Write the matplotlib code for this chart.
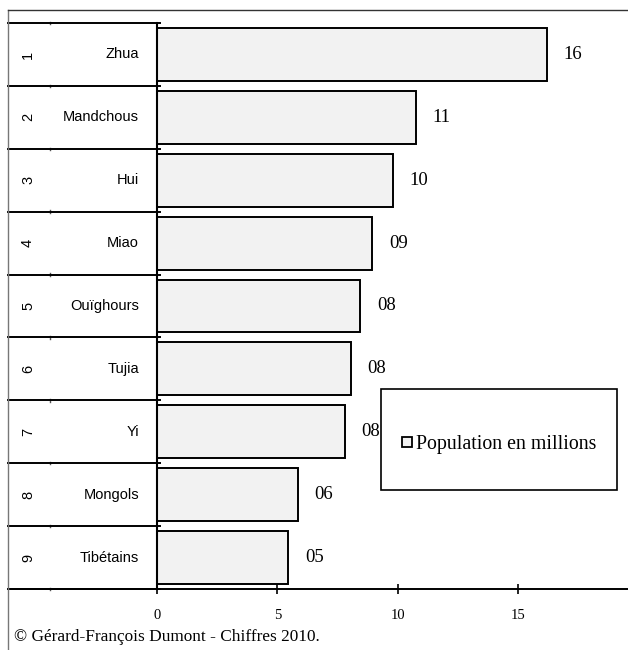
import matplotlib
matplotlib.use("Agg")
import matplotlib.pyplot as plt
from matplotlib.lines import Line2D

# Principales minorités ethniques de Chine (population en millions)
rangs = ["1", "2", "3", "4", "5", "6", "7", "8", "9"]
peuples = ["Zhua", "Mandchous", "Hui", "Miao", "Ouïghours", "Tujia", "Yi", "Mongols", "Tibétains"]
population = [16.2, 10.75, 9.8, 8.95, 8.45, 8.05, 7.8, 5.85, 5.45]
graduations = [0, 5, 10, 15]
legende = "Population en millions"
source = "© Gérard-François Dumont - Chiffres 2010."

W, H = 628, 650
fig = plt.figure(figsize=(W / 100, H / 100), dpi=100)

# zone des barres : x=0 à 157 px, pas de 24.07 px par unité
x0_px, y_haut, y_bas = 157, 23, 589
ech = 24.07
ax = fig.add_axes([x0_px / W, (H - y_bas) / H, (W - x0_px) / W, (y_bas - y_haut) / H])
xmax = (W - x0_px) / ech
ax.set_xlim(0, xmax)
ax.set_ylim(len(peuples), 0)

serif = "Liberation Serif"
sans = "Liberation Sans"

y = [i + 0.5 for i in range(len(peuples))]
ax.barh(y, population, height=0.84, color="#f2f2f2", edgecolor="black", linewidth=1.4, zorder=2)

for yi, v in zip(y, population):
    ax.annotate(f"{round(v):02d}", (v, yi), xytext=(12, 0), textcoords="offset points",
                ha="left", va="center", fontsize=13.5, family=serif)

# colonne des libellés à gauche
x_bord = (8 - x0_px) / ech
x_tick = 3 / ech
for i in range(len(peuples) + 1):
    ax.plot([x_bord, x_tick], [i, i], color="black", lw=1.4, clip_on=False, zorder=3)
    ax.plot([(50 - x0_px) / ech] * 2, [i - 0.02, i + 0.02], color="#555555", lw=1, clip_on=False)
ax.plot([x_bord, xmax], [len(peuples)] * 2, color="black", lw=1.4, clip_on=False, zorder=3)

for yi, r, p in zip(y, rangs, peuples):
    ax.text((28 - x0_px) / ech, yi, r, rotation=90, ha="center", va="center",
            fontsize=10.5, family=sans, clip_on=False)
    ax.text((139 - x0_px) / ech, yi, p, ha="right", va="center",
            fontsize=10.5, family=sans, clip_on=False)

for s in ["top", "right", "bottom"]:
    ax.spines[s].set_visible(False)
ax.spines["left"].set_linewidth(1.5)
ax.set_yticks([])
ax.set_xticks(graduations)
ax.set_xticklabels([str(g) for g in graduations], family=serif, fontsize=10.5)
ax.tick_params(axis="x", direction="inout", length=7, width=1.2, pad=11)

# cadre de la figure (gauche et haut)
fig.add_artist(Line2D([8 / W, 8 / W], [0, (H - 10) / H], color="#777777", lw=1))
fig.add_artist(Line2D([8 / W, 1], [(H - 10) / H] * 2, color="#333333", lw=1))

# légende encadrée
bx0, bx1, by0, by1 = 381, 617, 389, 490
fig.add_artist(plt.Rectangle((bx0 / W, (H - by1) / H), (bx1 - bx0) / W, (by1 - by0) / H,
                             fill=True, facecolor="white", edgecolor="black", lw=1.2,
                             transform=fig.transFigure, zorder=5))
poignee = Line2D([], [], marker="s", linestyle="none", markersize=7,
                 markerfacecolor="#f2f2f2", markeredgecolor="black", markeredgewidth=1.3)
leg = fig.legend([poignee], [legende], loc="center", frameon=False,
                 bbox_to_anchor=((bx0 + bx1) / 2 / W, (H - 444) / H),
                 prop={"family": serif, "size": 14.3}, handlelength=0.6, handletextpad=0.15)
leg.set_zorder(6)

fig.text(14 / W, (H - 637) / H, source, ha="left", va="center", fontsize=12.4, family=serif)

fig.savefig("out.png", dpi=100)
